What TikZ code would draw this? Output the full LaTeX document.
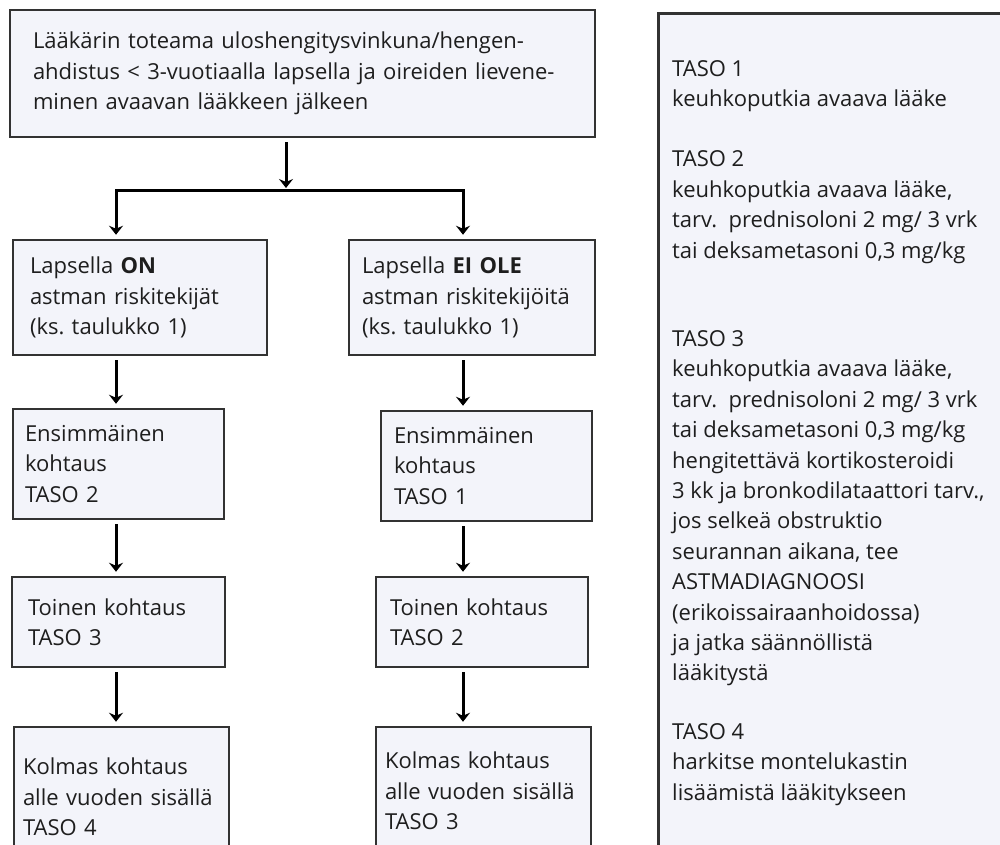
\documentclass[tikz,border=0pt]{standalone}
\usepackage{fontspec}
\setmainfont{Open Sans}
\frenchspacing
\usetikzlibrary{arrows.meta}

\definecolor{laatikkopohja}{RGB}{243,244,250}
\definecolor{reunaharmaa}{RGB}{50,50,50}
\definecolor{tekstiharmaa}{RGB}{30,30,30}

\tikzset{
  laatikko/.style={draw=reunaharmaa, line width=2.5pt, fill=laatikkopohja, rectangle, align=left,
    text=tekstiharmaa, font=\fontsize{22}{30.4}\selectfont, inner ysep=0pt},
  nuoli/.style={line width=3pt, -{Stealth[length=9pt,width=14pt,inset=3pt]},
    shorten >=4pt, shorten <=4pt},
}

\begin{document}
\begin{tikzpicture}[x=1pt, y=-1pt]
      \clip (0,0) rectangle (1000,844);
      % alkutilanne
      \node[laatikko, inner xsep=23pt, text width=539pt, minimum height=127pt] (alku) at (302.5,73.5)
        {Lääkärin toteama uloshengitysvinkuna/hengen-\\ahdistus < 3-vuotiaalla lapsella ja oireiden lievene-\\minen avaavan lääkkeen jälkeen};
      %
      \node[laatikko, inner xsep=17pt, text width=220pt, minimum height=115pt] (on) at (140,297.5)
        {Lapsella \textbf{ON}\\astman riskitekijät\\(ks. taulukko 1)};
      \node[laatikko, inner xsep=12pt, text width=187pt, minimum height=110pt] (on1) at (118.5,464)
        {Ensimmäinen\\kohtaus\\TASO 2};
      \node[laatikko, inner xsep=16pt, text width=181pt, minimum height=90pt] (on2) at (118.5,622)
        {Toinen kohtaus\\TASO 3};
      \node[laatikko, inner xsep=9pt, text width=197pt, minimum height=140pt] (on3) at (121.5,797)
        {Kolmas kohtaus\\alle vuoden sisällä\\TASO 4};
      %
      \node[laatikko, inner xsep=13pt, text width=220pt, minimum height=115pt] (eiole) at (472,297.5)
        {Lapsella \textbf{EI OLE}\\astman riskitekijöitä\\(ks. taulukko 1)};
      \node[laatikko, inner xsep=13pt, text width=185pt, minimum height=110pt] (eiole1) at (486.5,466)
        {Ensimmäinen\\kohtaus\\TASO 1};
      \node[laatikko, inner xsep=14pt, text width=184pt, minimum height=90pt] (eiole2) at (482,622)
        {Toinen kohtaus\\TASO 2};
      \node[laatikko, inner xsep=9pt, text width=197pt, minimum height=128pt] (eiole3) at (483.5,791)
        {Kolmas kohtaus\\alle vuoden sisällä\\TASO 3};
      %
      % tasojen selitykset
      \node[laatikko, minimum width=380pt, minimum height=880pt, anchor=north west] (tasot) at (657,12) {};
      \node[anchor=north west, align=left, inner sep=0pt, text=tekstiharmaa,
        font=\fontsize{22}{30.4}\selectfont] (selitys) at ([shift={(15,48)}]tasot.north west)
        {TASO 1\\keuhkoputkia avaava lääke\\[30pt]
         TASO 2\\keuhkoputkia avaava lääke,\\tarv.\ \ prednisoloni 2 mg/ 3 vrk\\tai deksametasoni 0,3 mg/kg\\[58pt]
         TASO 3\\keuhkoputkia avaava lääke,\\tarv.\ \ prednisoloni 2 mg/ 3 vrk\\tai deksametasoni 0,3 mg/kg\\
         hengitettävä kortikosteroidi\\3 kk ja bronkodilataattori tarv.,\\jos selkeä obstruktio\\
         seurannan aikana, tee\\ASTMADIAGNOOSI\\(erikoissairaanhoidossa)\\ja jatka säännöllistä\\
         lääkitystä\\[28pt]
         TASO 4\\harkitse montelukastin\\lisäämistä lääkitykseen};
      %
      % nuolet
      \coordinate (keski) at (286,0);
      \coordinate (vasen) at (116,0);
      \coordinate (oikea) at (463,0);
      \coordinate (haara) at (286,190);
      \draw[nuoli, shorten >=2pt] (alku.south -| keski) -- (haara);
      \draw[nuoli, shorten <=0pt] (haara) -- (haara -| vasen) -- (on.north -| vasen);
      \draw[nuoli, shorten <=0pt] (haara) -- (haara -| oikea) -- (eiole.north -| oikea);
      \foreach \a/\b in {on/on1, on1/on2, on2/on3}
        \draw[nuoli] (\a.south -| vasen) -- (\b.north -| vasen);
      \foreach \a/\b in {eiole/eiole1, eiole1/eiole2, eiole2/eiole3}
        \draw[nuoli] (\a.south -| oikea) -- (\b.north -| oikea);
\end{tikzpicture}
\end{document}
